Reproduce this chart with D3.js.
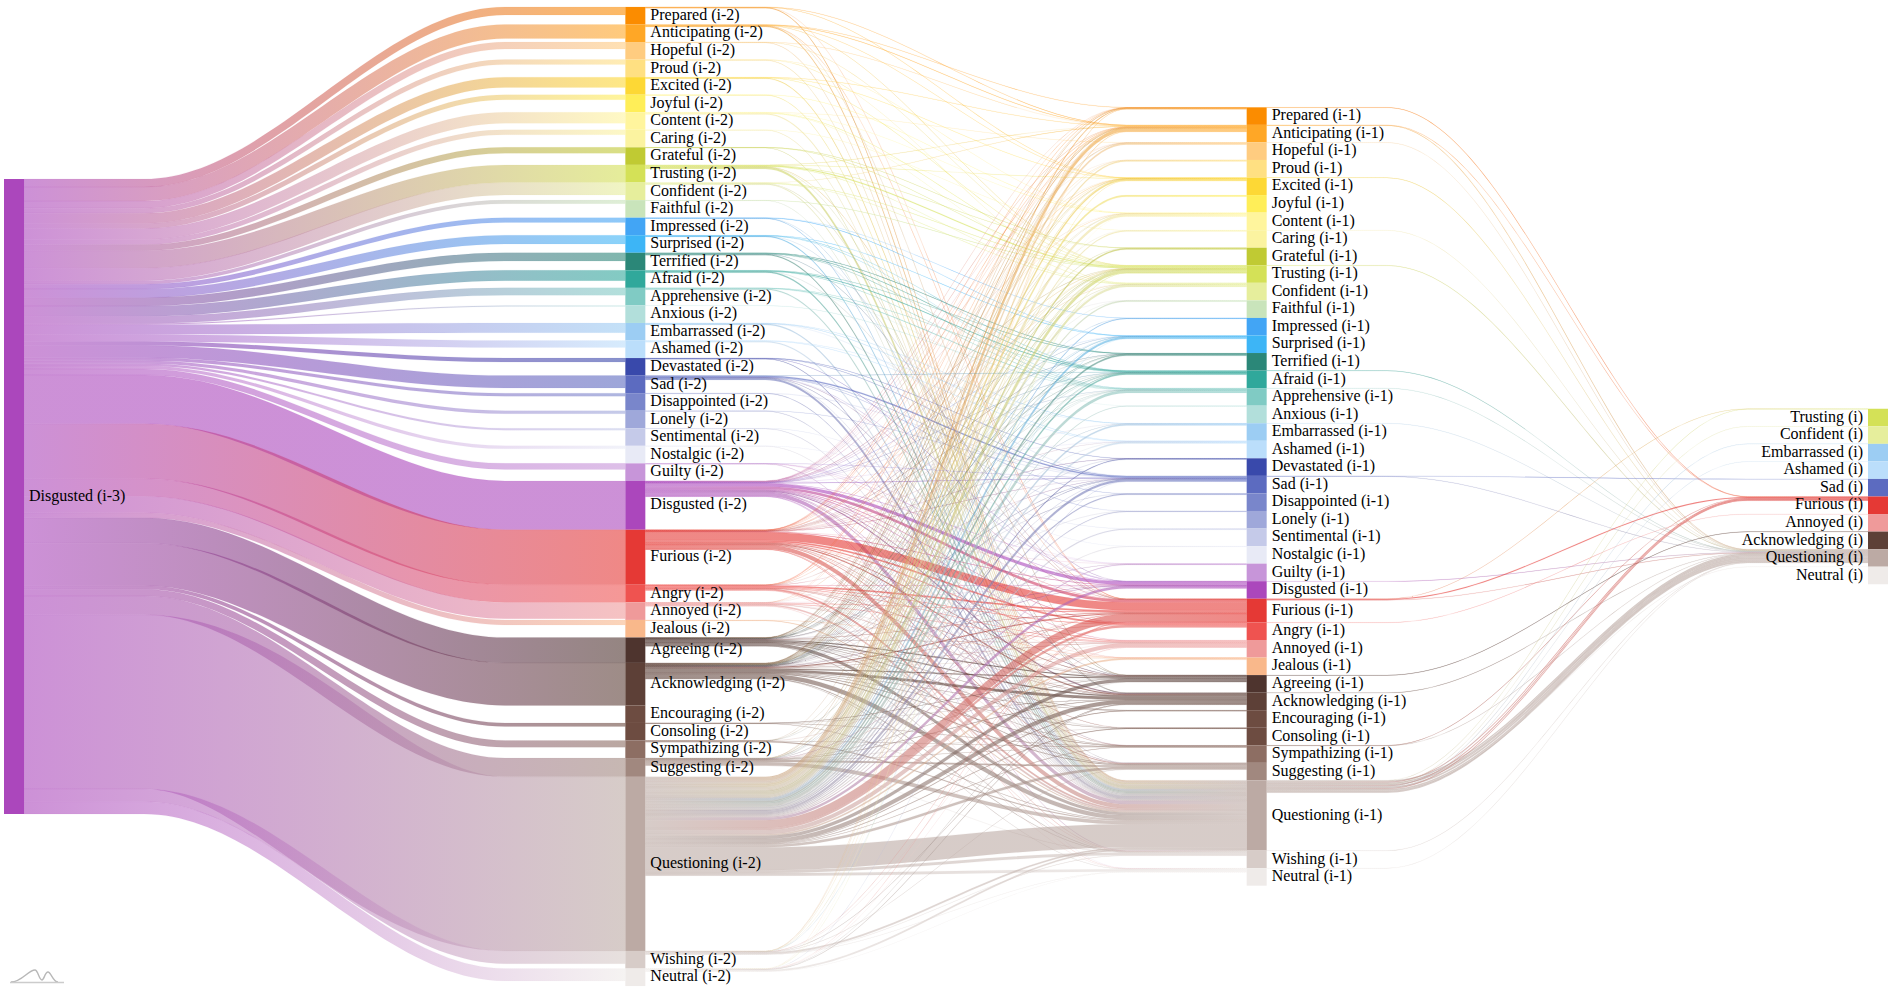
<!DOCTYPE html>
<html>
<head>
<meta charset="utf-8">
<title>Disgusted (i-3)</title>
<script src="https://cdn.jsdelivr.net/npm/d3@7"></script>
<style>
  html, body { margin: 0; padding: 0; background: #fff; overflow: hidden; }
  text { font-family: "Liberation Serif", "Times New Roman", serif; font-size: 16px; fill: #000; }
</style>
</head>
<body>
<div id="chart"></div>
<script>
// emotions, top to bottom, with their colours
const emotions = ["Prepared","Anticipating","Hopeful","Proud","Excited","Joyful","Content","Caring","Grateful","Trusting","Confident","Faithful","Impressed","Surprised","Terrified","Afraid","Apprehensive","Anxious","Embarrassed","Ashamed","Devastated","Sad","Disappointed","Lonely","Sentimental","Nostalgic","Guilty","Disgusted","Furious","Angry","Annoyed","Jealous","Agreeing","Acknowledging","Encouraging","Consoling","Sympathizing","Suggesting","Questioning","Wishing","Neutral"]
const emotionColors = ["#FB8C00","#FFA726","#FFCC80","#FFE082","#FDD835","#FFEE58","#FFF59D","#FBF3A0","#C0CA33","#D4E157","#E6EE9C","#C9E4BB","#42A5F5","#3DB5F6","#2B8778","#30A89B","#80CBC4","#B2DFDB","#9CCDF3","#BBDEFB","#3949AB","#5C6BC0","#7986CB","#9FA8DA","#C5CAE9","#E8EAF6","#C795D9","#AB47BC","#E53935","#EF5350","#EF9A9A","#F9B88B","#4E342E","#5D4037","#6D4C41","#6D4C41","#8D6E63","#A1887F","#BCAAA4","#D7CCC8","#EFEBE9"]

const lastColumn = ["Trusting","Confident","Embarrassed","Ashamed","Sad","Furious","Annoyed","Acknowledging","Questioning","Neutral"]

// Disgusted (i-3) -> (i-2)
const linksFirst = [
  ["Prepared",8],["Anticipating",14],["Hopeful",7],["Proud",5],["Excited",10.3],["Joyful",5],["Content",11],["Caring",5],["Grateful",6],["Trusting",17.6],["Confident",12.3],["Faithful",3.5],
  ["Impressed",4.7],["Surprised",8.7],["Terrified",8.3],["Afraid",10.3],["Apprehensive",7.3],["Anxious",1],["Embarrassed",9.7],["Ashamed",7],["Devastated",4],["Sad",12.3],["Disappointed",3],["Lonely",3],["Sentimental",2],["Nostalgic",3],["Guilty",6],
  ["Disgusted",48.6],["Furious",54.7],["Angry",17.6],["Annoyed",16.3],["Jealous",5],["Agreeing",25.3],["Acknowledging",42.3],["Consoling",3.5],["Sympathizing",6.7],["Suggesting",18.7],["Questioning",173.3],["Wishing",12.7],["Neutral",12.3]
]

// (i-2) -> (i-1)
const linksMiddle = [
  ["Prepared","Anticipating",.25],["Prepared","Excited",.2],["Prepared","Furious",.2],["Prepared","Questioning",.55],
  ["Anticipating","Prepared",.3],["Anticipating","Anticipating",.5],["Anticipating","Excited",.2],["Anticipating","Trusting",.2],["Anticipating","Furious",.2],["Anticipating","Questioning",.9],
  ["Hopeful","Anticipating",.2],["Hopeful","Trusting",.2],["Hopeful","Questioning",.6],
  ["Proud","Content",.2],["Proud","Confident",.3],["Proud","Questioning",.5],
  ["Excited","Anticipating",.3],["Excited","Excited",.3],["Excited","Trusting",.3],["Excited","Questioning",.8],
  ["Joyful","Content",.2],["Joyful","Questioning",.5],
  ["Content","Hopeful",.2],["Content","Content",.4],["Content","Trusting",.3],["Content","Confident",.3],["Content","Questioning",1.1],
  ["Caring","Caring",.2],["Caring","Questioning",.5],
  ["Grateful","Grateful",.2],["Grateful","Trusting",.2],["Grateful","Questioning",.3],
  ["Trusting","Anticipating",.2],["Trusting","Excited",.2],["Trusting","Grateful",.2],["Trusting","Trusting",1],["Trusting","Confident",.3],["Trusting","Furious",.2],["Trusting","Questioning",1.9],
  ["Confident","Anticipating",.3],["Confident","Trusting",.4],["Confident","Confident",.4],["Confident","Acknowledging",.3],["Confident","Questioning",.9],
  ["Faithful","Trusting",.3],["Faithful","Questioning",.4],
  ["Impressed","Impressed",.2],["Impressed","Surprised",.3],["Impressed","Questioning",.5],
  ["Surprised","Surprised",.4],["Surprised","Afraid",.2],["Surprised","Apprehensive",.2],["Surprised","Questioning",.9],
  ["Terrified","Terrified",.5],["Terrified","Afraid",.5],["Terrified","Apprehensive",.3],["Terrified","Questioning",1],
  ["Afraid","Terrified",.3],["Afraid","Afraid",.6],["Afraid","Apprehensive",.3],["Afraid","Questioning",1.1],
  ["Apprehensive","Afraid",.2],["Apprehensive","Apprehensive",.6],["Apprehensive","Anxious",.1],["Apprehensive","Questioning",1.1],
  ["Anxious","Apprehensive",.3],
  ["Embarrassed","Embarrassed",.3],["Embarrassed","Ashamed",.4],["Embarrassed","Sad",.2],["Embarrassed","Questioning",1.1],
  ["Ashamed","Embarrassed",.2],["Ashamed","Ashamed",.5],["Ashamed","Questioning",1],
  ["Devastated","Devastated",.2],["Devastated","Sad",.3],["Devastated","Questioning",.5],
  ["Sad","Sad",1.2],["Sad","Disappointed",.3],["Sad","Lonely",.2],["Sad","Disgusted",.2],["Sad","Furious",.2],["Sad","Questioning",1.9],
  ["Disappointed","Sad",.2],["Disappointed","Questioning",.5],
  ["Lonely","Sad",.2],["Lonely","Questioning",.5],
  ["Sentimental","Nostalgic",.2],["Sentimental","Questioning",.5],
  ["Nostalgic","Sentimental",.2],["Nostalgic","Questioning",.4],
  ["Guilty","Guilty",.1],["Guilty","Disgusted",.2],["Guilty","Questioning",.4],
  ["Disgusted","Prepared",.1],["Disgusted","Anticipating",.3],["Disgusted","Hopeful",.1],["Disgusted","Proud",.1],["Disgusted","Excited",.15],["Disgusted","Content",.1],["Disgusted","Trusting",.3],["Disgusted","Confident",.2],["Disgusted","Faithful",.1],["Disgusted","Surprised",.1],["Disgusted","Terrified",.1],["Disgusted","Afraid",.2],["Disgusted","Apprehensive",.1],["Disgusted","Ashamed",.1],["Disgusted","Sad",.3],["Disgusted","Guilty",.2],["Disgusted","Disgusted",3],["Disgusted","Furious",2.6],["Disgusted","Angry",.5],["Disgusted","Annoyed",.6],["Disgusted","Jealous",.2],["Disgusted","Agreeing",.4],["Disgusted","Acknowledging",1],["Disgusted","Sympathizing",.2],["Disgusted","Suggesting",.5],["Disgusted","Questioning",3.5],["Disgusted","Wishing",.4],["Disgusted","Neutral",.3],
  ["Furious","Prepared",.1],["Furious","Anticipating",.3],["Furious","Excited",.1],["Furious","Trusting",.2],["Furious","Confident",.1],["Furious","Surprised",.1],["Furious","Afraid",.2],["Furious","Apprehensive",.1],["Furious","Sad",.2],["Furious","Disgusted",.5],["Furious","Furious",7.8],["Furious","Angry",1.5],["Furious","Annoyed",1],["Furious","Agreeing",.4],["Furious","Acknowledging",1],["Furious","Consoling",.2],["Furious","Suggesting",.5],["Furious","Questioning",4],["Furious","Wishing",.3],["Furious","Neutral",.3],
  ["Angry","Anticipating",.2],["Angry","Disgusted",.2],["Angry","Furious",1.5],["Angry","Angry",.5],["Angry","Annoyed",.4],["Angry","Acknowledging",.3],["Angry","Questioning",1.7],["Angry","Wishing",.2],
  ["Annoyed","Furious",.7],["Annoyed","Annoyed",.6],["Annoyed","Acknowledging",.2],["Annoyed","Questioning",1.6],["Annoyed","Neutral",.2],
  ["Jealous","Jealous",.3],["Jealous","Questioning",.7],
  ["Agreeing","Anticipating",.2],["Agreeing","Trusting",.3],["Agreeing","Afraid",.2],["Agreeing","Sad",.2],["Agreeing","Furious",.4],["Agreeing","Annoyed",.2],["Agreeing","Agreeing",1],["Agreeing","Acknowledging",1.2],["Agreeing","Encouraging",.2],["Agreeing","Sympathizing",.2],["Agreeing","Suggesting",.5],["Agreeing","Questioning",2.8],["Agreeing","Wishing",.3],
  ["Acknowledging","Prepared",.1],["Acknowledging","Anticipating",.5],["Acknowledging","Excited",.2],["Acknowledging","Content",.2],["Acknowledging","Trusting",.4],["Acknowledging","Confident",.2],["Acknowledging","Surprised",.2],["Acknowledging","Terrified",.2],["Acknowledging","Afraid",.2],["Acknowledging","Sad",.3],["Acknowledging","Disgusted",.3],["Acknowledging","Furious",1],["Acknowledging","Angry",.3],["Acknowledging","Annoyed",.4],["Acknowledging","Agreeing",1],["Acknowledging","Acknowledging",2.6],["Acknowledging","Encouraging",.2],["Acknowledging","Consoling",.2],["Acknowledging","Sympathizing",.5],["Acknowledging","Suggesting",.7],["Acknowledging","Questioning",4.3],["Acknowledging","Wishing",.5],["Acknowledging","Neutral",.3],
  ["Consoling","Sympathizing",.3],["Consoling","Questioning",.4],
  ["Sympathizing","Sympathizing",.4],["Sympathizing","Questioning",.9],
  ["Suggesting","Anticipating",.2],["Suggesting","Trusting",.2],["Suggesting","Furious",.2],["Suggesting","Agreeing",.2],["Suggesting","Acknowledging",.6],["Suggesting","Sympathizing",.1],["Suggesting","Suggesting",1.5],["Suggesting","Questioning",3.5],["Suggesting","Wishing",.2],
  ["Questioning","Prepared",.9],["Questioning","Anticipating",2.9],["Questioning","Hopeful",1.6],["Questioning","Proud",1.3],["Questioning","Excited",1.6],["Questioning","Joyful",1.7],["Questioning","Content",2.5],["Questioning","Caring",1.1],["Questioning","Grateful",1.3],["Questioning","Trusting",3],["Questioning","Confident",2.2],["Questioning","Faithful",1.1],["Questioning","Impressed",.8],["Questioning","Surprised",1.9],["Questioning","Terrified",1.5],["Questioning","Afraid",1.4],["Questioning","Apprehensive",2.6],["Questioning","Anxious",.6],["Questioning","Embarrassed",1.5],["Questioning","Ashamed",1.6],["Questioning","Devastated",.8],["Questioning","Sad",2.2],["Questioning","Disappointed",1],["Questioning","Lonely",.8],["Questioning","Sentimental",1.1],["Questioning","Nostalgic",.8],["Questioning","Guilty",.9],["Questioning","Disgusted",2.4],["Questioning","Furious",7.8],["Questioning","Angry",2.2],["Questioning","Annoyed",4],["Questioning","Jealous",1.5],["Questioning","Agreeing",3.2],["Questioning","Acknowledging",4],["Questioning","Encouraging",.6],["Questioning","Consoling",.6],["Questioning","Sympathizing",.4],["Questioning","Suggesting",2.6],["Questioning","Questioning",23],["Questioning","Wishing",2.8],["Questioning","Neutral",2.6],
  ["Wishing","Anticipating",.2],["Wishing","Furious",.2],["Wishing","Acknowledging",.3],["Wishing","Suggesting",.2],["Wishing","Questioning",1.6],["Wishing","Wishing",.4],["Wishing","Neutral",.1],
  ["Neutral","Trusting",.2],["Neutral","Furious",.2],["Neutral","Agreeing",.2],["Neutral","Acknowledging",.4],["Neutral","Questioning",1.5],["Neutral","Neutral",.2]
]

// thin crossing lines of the same step
const linksMiddleThin = [
  ["Furious","Hopeful",.1],["Furious","Content",.1],["Furious","Terrified",.1],["Furious","Embarrassed",.1],["Furious","Ashamed",.1],["Furious","Devastated",.1],["Furious","Guilty",.1],["Furious","Jealous",.1],["Furious","Sympathizing",.1],
  ["Angry","Prepared",.1],["Angry","Excited",.1],["Angry","Trusting",.1],["Angry","Afraid",.1],["Angry","Sad",.1],["Angry","Jealous",.1],["Angry","Agreeing",.1],["Angry","Suggesting",.1],
  ["Annoyed","Anticipating",.1],["Annoyed","Proud",.1],["Annoyed","Trusting",.1],["Annoyed","Apprehensive",.1],["Annoyed","Disgusted",.1],["Annoyed","Agreeing",.1],
  ["Agreeing","Prepared",.1],["Agreeing","Hopeful",.1],["Agreeing","Excited",.1],["Agreeing","Content",.1],["Agreeing","Surprised",.1],["Agreeing","Terrified",.1],["Agreeing","Apprehensive",.1],["Agreeing","Disappointed",.1],["Agreeing","Disgusted",.1],["Agreeing","Consoling",.1],
  ["Acknowledging","Hopeful",.1],["Acknowledging","Proud",.1],["Acknowledging","Caring",.1],["Acknowledging","Grateful",.1],["Acknowledging","Faithful",.1],["Acknowledging","Impressed",.1],["Acknowledging","Apprehensive",.1],["Acknowledging","Embarrassed",.1],["Acknowledging","Ashamed",.1],["Acknowledging","Devastated",.1],["Acknowledging","Lonely",.1],["Acknowledging","Guilty",.1],["Acknowledging","Jealous",.1],
  ["Suggesting","Excited",.1],["Suggesting","Confident",.1],["Suggesting","Surprised",.1],["Suggesting","Afraid",.1],["Suggesting","Sad",.1],["Suggesting","Disgusted",.1],["Suggesting","Annoyed",.1],["Suggesting","Consoling",.1],
  ["Wishing","Prepared",.1],["Wishing","Excited",.1],["Wishing","Trusting",.1],["Wishing","Surprised",.1],["Wishing","Annoyed",.1],["Neutral","Anticipating",.1],["Neutral","Content",.1],["Neutral","Sad",.1],["Neutral","Annoyed",.1],
  ["Sympathizing","Anticipating",.1],["Sympathizing","Trusting",.1],["Sympathizing","Afraid",.1],["Sympathizing","Furious",.1],["Consoling","Agreeing",.1],["Consoling","Acknowledging",.1],
  ["Sad","Afraid",.1],["Sad","Suggesting",.1],["Sad","Agreeing",.1],["Guilty","Furious",.1],["Guilty","Sad",.1],["Devastated","Disgusted",.1],["Trusting","Agreeing",.1],["Anticipating","Agreeing",.1],["Impressed","Acknowledging",.1],["Surprised","Furious",.1],["Terrified","Disgusted",.1],["Afraid","Furious",.1]
]

// (i-1) -> (i), in stacking order: the Questioning links are mixed at the source
const linksLast = [
  ["Prepared","Furious",.35],
  ["Anticipating","Furious",.25],["Anticipating","Questioning",.5],
  ["Hopeful","Questioning",.3],
  ["Excited","Questioning",.35],
  ["Caring","Questioning",.25],
  ["Trusting","Questioning",.5],
  ["Afraid","Questioning",.35],
  ["Apprehensive","Questioning",.3],
  ["Embarrassed","Questioning",.3],
  ["Sad","Sad",.3],["Sad","Questioning",.35],
  ["Disgusted","Questioning",.4],
  ["Furious","Trusting",.2],["Furious","Furious",.9],["Furious","Questioning",.4],
  ["Angry","Annoyed",.3],
  ["Agreeing","Acknowledging",.35],
  ["Acknowledging","Questioning",.4],
  ["Sympathizing","Furious",.3],["Sympathizing","Questioning",.3],
  ["Questioning","Trusting",.2],["Questioning","Questioning",1.2],["Questioning","Furious",.8],["Questioning","Questioning",1.4],["Questioning","Confident",.25],["Questioning","Questioning",1.1],["Questioning","Furious",.8],["Questioning","Embarrassed",.25],["Questioning","Questioning",1.6],["Questioning","Ashamed",.25],["Questioning","Furious",.8],["Questioning","Questioning",1.5],["Questioning","Neutral",.4],["Questioning","Questioning",1.7],
  ["Wishing","Questioning",.3],
  ["Neutral","Questioning",.3]
]

const width = 1897, height = 995
const nodeWidth = 20, minNodeHeight = 17.55, centerY = 496.5

const color = d3.scaleOrdinal(emotions, emotionColors)
const xColumn = d3.scaleLinear().domain([0, 3]).range([4, 1868])
// la première colonne fait 635px de haut
const thickness = d3.scaleLinear().domain([0, d3.sum(linksFirst, d => d[1])]).range([0, 635])

// on crée les colonnes de noeuds
const suffixes = ["(i-3)", "(i-2)", "(i-1)", "(i)"]
const columns = [["Disgusted"], emotions, emotions, lastColumn].map((names, c) => names.map(name => ({
  name, column: c, label: name + " " + suffixes[c], color: color(name), inTotal: 0, outTotal: 0, inY: 0, outY: 0
})))

function findNode(c, name) {
  return columns[c].find(n => n.name === name)
}

const links = []
linksFirst.forEach(([t, v]) => links.push({source: columns[0][0], target: findNode(1, t), value: v}))
linksMiddle.concat(linksMiddleThin).forEach(([s, t, v]) => links.push({source: findNode(1, s), target: findNode(2, t), value: v}))
linksLast.forEach(([s, t, v]) => links.push({source: findNode(2, s), target: findNode(3, t), value: v}))

links.forEach(l => {
  l.w = thickness(l.value)
  l.source.outTotal += l.w
  l.target.inTotal += l.w
})

// hauteur des noeuds et centrage vertical de chaque colonne
columns.forEach(col => {
  col.forEach(n => { n.h = Math.max(minNodeHeight, n.inTotal, n.outTotal) })
  let y = centerY - d3.sum(col, n => n.h) / 2
  col.forEach(n => {
    n.x = xColumn(n.column)
    n.y = y
    n.inY = y
    n.outY = y
    y += n.h
  })
})

// empilement des liens: ordre des cibles au départ, ordre des sources à l'arrivée
const nodeOrder = n => columns[n.column].indexOf(n)
d3.range(3).forEach(c => {
  const cur = links.filter(l => l.source.column === c)
  const bySource = c === 2 ? cur : cur.slice().sort((a, b) => nodeOrder(a.target) - nodeOrder(b.target))
  bySource.forEach(l => {
    l.y0 = l.source.outY
    l.source.outY += l.w
  })
  cur.slice().sort((a, b) => nodeOrder(a.source) - nodeOrder(b.source)).forEach(l => {
    l.y1 = l.target.inY
    l.target.inY += l.w
  })
})

function ribbon(l) {
  const x0 = l.source.x + nodeWidth, x1 = l.target.x
  const flat = (x1 - x0) * 0.2
  const a = x0 + flat, b = x1 - flat, pull = (b - a) * 0.35
  // la largeur reste à peu près perpendiculaire à la pente
  const angle = Math.atan2(l.y1 - l.y0, b - a)
  const off = l.w / 2 * Math.sin(angle) * 0.7
  const p = d3.path()
  p.moveTo(x0, l.y0)
  p.lineTo(a, l.y0)
  p.bezierCurveTo(a + pull + off, l.y0, b - pull + off, l.y1, b, l.y1)
  p.lineTo(x1, l.y1)
  p.lineTo(x1, l.y1 + l.w)
  p.lineTo(b, l.y1 + l.w)
  p.bezierCurveTo(b - pull - off, l.y1 + l.w, a + pull - off, l.y0 + l.w, a, l.y0 + l.w)
  p.lineTo(x0, l.y0 + l.w)
  p.closePath()
  return p.toString()
}

const svg = d3.select("#chart").append("svg").attr("width", width).attr("height", height)

const defs = svg.append("defs")
const grads = defs.selectAll("linearGradient").data(links).join("linearGradient")
  .attr("id", (d, i) => "link" + i)
  .attr("gradientUnits", "userSpaceOnUse")
  .attr("x1", d => d.source.x + nodeWidth)
  .attr("x2", d => d.target.x)
  .attr("y1", 0)
  .attr("y2", 0)
grads.append("stop").attr("offset", "0%").attr("stop-color", d => d.source.color)
grads.append("stop").attr("offset", "100%").attr("stop-color", d => d.target.color)

svg.append("g").selectAll("path").data(links).join("path")
  .attr("d", ribbon)
  .attr("fill", (d, i) => `url(#link${i})`)
  .attr("fill-opacity", 0.6)
  .attr("stroke", (d, i) => `url(#link${i})`)
  .attr("stroke-width", 0.15)
  .attr("stroke-opacity", 0.5)

const nodes = svg.append("g").selectAll("g").data(columns.flat()).join("g")
  .attr("transform", d => `translate(${d.x},${d.y})`)

nodes.append("rect")
  .attr("width", nodeWidth)
  .attr("height", d => d.h)
  .attr("fill", d => d.color)

nodes.append("text")
  .attr("x", d => d.column === 3 ? -5 : nodeWidth + 5)
  .attr("y", d => d.h / 2)
  .attr("dy", "0.26em")
  .attr("text-anchor", d => d.column === 3 ? "end" : "start")
  .text(d => d.label)

// petit logo en bas à gauche
svg.append("path")
  .attr("d", "M11,982 C22,982 28,970 35,970 C38,970 39,980 42,980 C44,980 45,972 48,972 C51,972 53,982 58,982")
  .attr("fill", "none")
  .attr("stroke", "#b8b8b8")
  .attr("stroke-width", 1.4)
svg.append("path")
  .attr("d", "M10,982.5 L64,982.5")
  .attr("stroke", "#cccccc")
  .attr("stroke-width", 1.4)
</script>
</body>
</html>
